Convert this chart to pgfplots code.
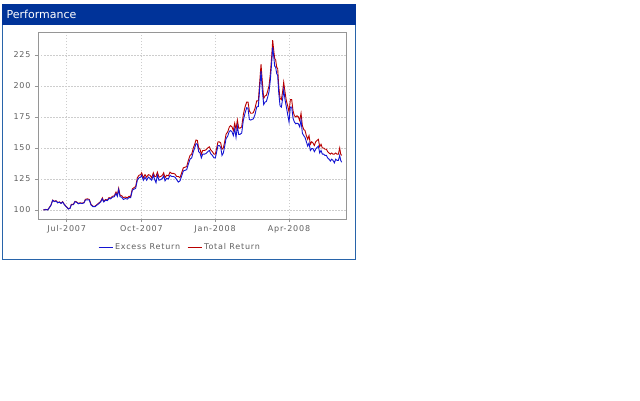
\documentclass[border=0pt]{standalone}
\usepackage{fontspec}
\setmainfont{DejaVu Sans}
\newfontfamily\chartfont[LetterSpace=10]{DejaVu Sans}
\usepackage{pgfplots}
\pgfplotsset{compat=1.18}
\definecolor{titlebar}{RGB}{0,51,153}
\definecolor{framecol}{RGB}{40,100,170}
\definecolor{excess}{RGB}{20,20,210}
\definecolor{total}{RGB}{185,0,0}
\definecolor{axgray}{RGB}{150,150,150}
\definecolor{gridgray}{RGB}{205,205,205}
\definecolor{labgray}{RGB}{95,95,95}
\pgfplotstableread{
x y
130 100
137 100.5
143 100.2
148 102
153 104
158 108
163 107
168 107.5
173 106
178 106.5
183 105.5
188 106.7
193 104.5
200 102.5
205 101
210 101.5
214 104.5
220 104.5
225 107
230 106.5
235 105.3
240 105.8
246 105.5
252 106
256 108.6
262 109
268 108.5
273 104.5
279 103
285 103
290 104.2
296 105.5
302 107
307 109.8
311 107
317 108.5
322 108
327 110
332 109.5
337 111
343 111.5
348 114.5
352 112
356 117.5
360 112
365 111.5
370 110
376 110.5
382 109.8
387 111
392 111
397 117
402 118
407 119
412 126
417 128
422 128.5
425 130
430 126
435 128.5
440 126.5
445 128.5
450 128
455 126
460 130
464 127
468 127
472 130.5
477 126.5
482 127
487 128
491 130
495 126
500 128
505 127.5
510 130.5
515 129.5
520 129.5
525 129
530 127
535 127
540 126
545 130
550 134
555 134.5
560 135
565 140
570 144
575 145
580 150
584 153
588 156.5
592 156
596 150
600 149
604 145
608 148
613 148
618 148.5
623 150
628 151
632 148.5
637 147
642 145
646 145
650 150
654 155
658 155
662 154
666 149
670 150
674 155
678 161
683 163
688 167
692 168
696 167
700 164
704 170
708 165
712 172.5
716 166
720 166
725 167
730 177
735 183
740 187
744 187
748 180
752 178
756 178
760 178.5
765 182
770 188
775 188
779 203
783 217.5
787 203
791 190
795 192
799 192.5
803 196
807 200
811 210
815 224
818 237
821 229
824 222
827 221
830 215
833 214
836 200
840 190
844 189
848 196
851 203
855 195
859 188
863 184
867 179
871 189
875 189
879 180
883 176
887 175
891 176
895 175
899 172
903 178
907 168
911 165
915 164
919 160
923 157
927 160
931 153
935 155
939 154
943 152
947 155
951 156
955 157
959 151
963 153
967 150
971 150
975 149
979 149
983 147
987 146
991 145
995 146
999 145
1003 145
1007 146
1011 145
1015 145
1019 150
1022 145
1025 144
}\totaltable
\pgfplotstableread{
x y
130 100
137 100.3
143 100
148 101.8
153 103.8
158 107.8
163 106.8
168 107.2
173 105.8
178 106.3
183 105.3
188 106.4
193 104.3
200 102.3
205 100.8
210 101.3
214 104.2
220 104.2
225 106.7
230 106.2
235 105
240 105.5
246 105.2
252 105.7
256 108
262 108.2
268 108
273 104
279 102.7
285 102.7
290 103.8
296 105
302 106.5
307 109
311 106.5
317 108
322 107.5
327 109.3
332 109
337 110.3
343 110.7
348 113.3
352 111
356 116.5
360 110.8
365 110.3
370 108.5
376 109.2
382 108.8
387 110
392 110
397 116
402 116.8
407 117.5
412 124.2
417 126
422 126.5
425 128
430 124
435 126.5
440 124
445 126.5
450 125.5
455 124
460 128
464 124.5
468 122
472 128
477 124
482 124.5
487 125.5
491 127.5
495 123.5
500 125.5
505 125
510 128
515 127
520 127
525 126.5
530 124.5
535 122.5
540 123.5
545 127.5
550 131.5
555 132
560 132.5
565 137
570 141
575 142
580 147
584 150
588 153.5
592 153
596 147
600 146
604 142
608 145
613 145
618 145.5
623 147
628 148
632 145.5
637 144
642 142
646 142
650 147
654 152
658 152
662 150.5
666 144
670 146
674 151.5
678 157.5
683 159.5
688 163.5
692 164
696 163
700 160
704 165.5
708 158.5
712 167.5
716 161
720 161
725 162
730 172.5
735 178
740 182.5
744 182
748 173
752 172.5
756 173
760 173.5
765 177
770 183
775 183.5
779 198
783 212
787 196
791 185
795 187
799 187.5
803 191
807 195.5
811 205
815 219
818 231
821 224
824 216
827 215
830 210
833 208.5
836 195
840 184
844 183
848 190
851 197
855 189
859 183
863 177
867 171
871 183
875 183
879 174
883 171
887 169.5
891 170
895 169.5
899 167
903 172.5
907 162
911 160
915 158.5
919 155
923 151.5
927 154
931 148
935 149.5
939 149.5
943 147
947 149
951 150.5
955 151.5
959 146
963 148
967 145
971 145
975 144
979 144
983 142
987 141
991 139.5
995 141
999 140
1003 138
1007 141
1011 140
1015 140
1019 144
1022 140
1025 138.5
}\excesstable
\begin{document}
\begin{tikzpicture}[x=1pt,y=1pt]
\path[fill=white] (0,0) rectangle (640,-400);
\draw[framecol,line width=1pt] (2.5,-4.5) rectangle (355.5,-259);
\fill[titlebar] (2,-4) rectangle (356,-24.5);
\node[anchor=west,text=white,font=\fontsize{11}{13}\selectfont,inner sep=0pt] at (6.5,-14.5) {Performance};
\begin{axis}[
  at={(38pt,-219pt)}, anchor=south west,
  scale only axis, width=308.7pt, height=187pt,
  xmin=114, xmax=1040, ymin=92.74, ymax=243.5,
  xtick={200,424,645,867},
  xticklabels={Jul-2007,Oct-2007,Jan-2008,Apr-2008},
  ytick={100,125,150,175,200,225},
  /pgf/number format/assume math mode=true,
  tick label style={font=\chartfont\fontsize{8}{9.5}\selectfont, text=labgray},
  yticklabel style={xshift=-1pt},
  tick align=outside, major tick length=3pt,
  tick style={axgray, line width=0.6pt},
  xtick pos=bottom, ytick pos=left,
  axis line style={axgray, line width=0.8pt},
  grid=major,
  major grid style={gridgray, dash pattern=on 1.5pt off 1.5pt, line width=0.5pt},
  legend style={at={(0.46,-0.15)}, anchor=center, fill=none, draw=none,
    font=\chartfont\fontsize{8}{9.5}\selectfont, text=labgray,
    legend columns=2, /tikz/every even column/.append style={column sep=5pt}},
]
\addlegendimage{legend image code/.code={\draw[draw=excess,line width=1pt] (0pt,0pt) -- (14pt,0pt);}}
\addlegendentry{Excess Return}
\addlegendimage{legend image code/.code={\draw[draw=total,line width=1pt] (0pt,0pt) -- (14pt,0pt);}}
\addlegendentry{Total Return}
\addplot[color=total, line width=0.9pt, forget plot] table[x=x,y=y] {\totaltable};
\addplot[color=excess, line width=0.9pt, forget plot] table[x=x,y=y] {\excesstable};
\end{axis}
\end{tikzpicture}
\end{document}
